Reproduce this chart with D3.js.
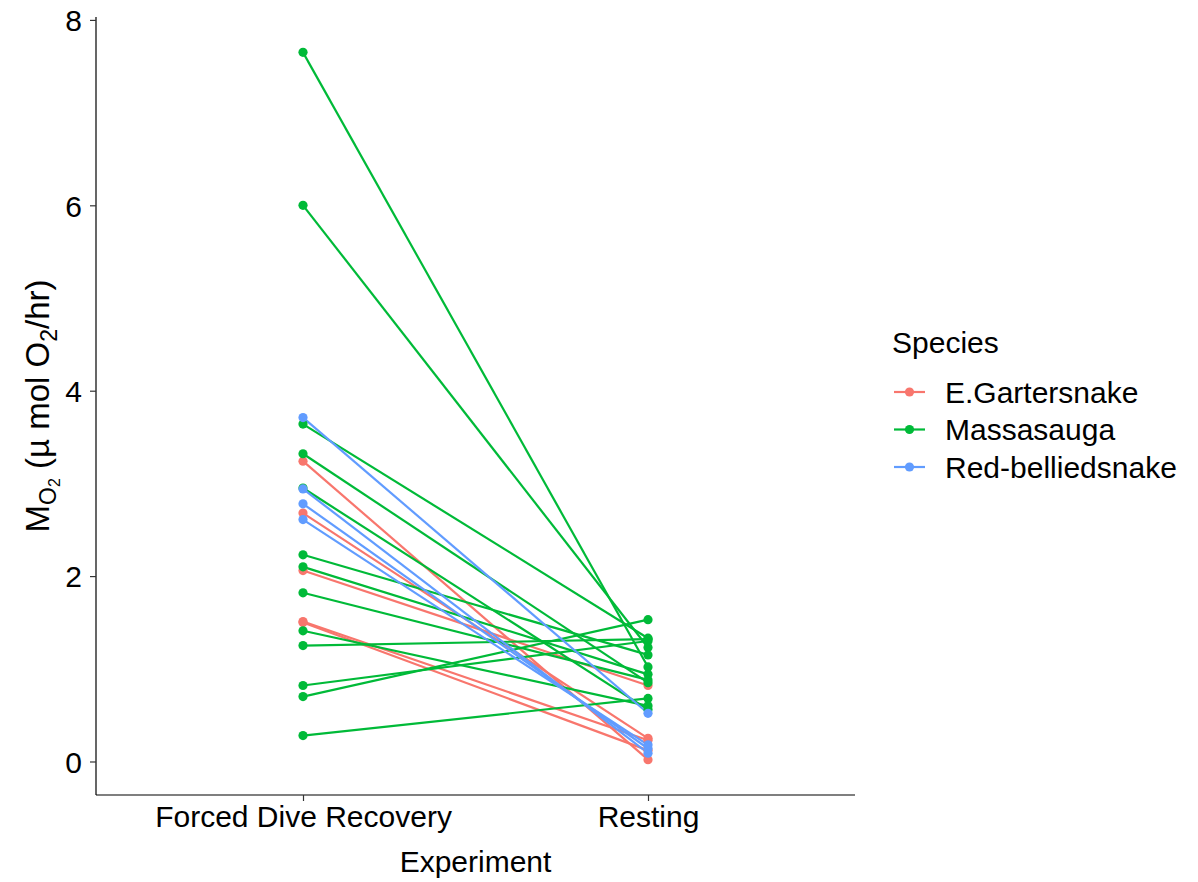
<!DOCTYPE html>
<html>
<head>
<meta charset="utf-8">
<script src="https://cdnjs.cloudflare.com/ajax/libs/d3/7.8.5/d3.min.js"></script>
<style>
  body { margin: 0; background: #fff; }
  text { font-family: "Liberation Sans", Arial, sans-serif; fill: #000; }
</style>
</head>
<body>
<div id="chart"></div>
<script>
var experiments = ["Forced Dive Recovery", "Resting"];
var speciesNames = ["E.Gartersnake", "Massasauga", "Red-belliedsnake"];
var speciesColors = ["#F8766D", "#00BA38", "#619CFF"];
var yTicks = [0, 2, 4, 6, 8];

// one entry per animal: value at Forced Dive Recovery, value at Resting
var garterDive = [3.24, 2.68, 2.06, 1.51, 1.50];
var garterRest = [0.02, 0.25, 0.82, 0.23, 0.12];
var massaDive = [7.65, 6.00, 3.64, 3.32, 2.95, 2.23, 2.10, 1.82, 1.41, 1.25, 0.82, 0.70, 0.28];
var massaRest = [1.02, 1.23, 1.33, 0.85, 0.56, 1.15, 0.94, 0.88, 0.60, 1.32, 1.30, 1.53, 0.68];
var bellyDive = [3.71, 2.94, 2.78, 2.61];
var bellyRest = [0.52, 0.09, 0.14, 0.18];

var dives = [garterDive, massaDive, bellyDive];
var rests = [garterRest, massaRest, bellyRest];

var margin = {top: 17, left: 96},
    width = 855 - 96,
    height = 795 - 17;

var svg = d3.select("#chart").append("svg")
    .attr("width", 1198)
    .attr("height", 882);

var g = svg.append("g")
    .attr("transform", "translate(" + margin.left + "," + margin.top + ")");

var xScale = d3.scalePoint()
    .domain(experiments)
    .range([0, width])
    .padding(0.6);

var yScale = d3.scaleLinear()
    .domain([-0.3615, 8.0315])
    .range([height, 0]);

var color = d3.scaleOrdinal().domain(speciesNames).range(speciesColors);

// build one record per animal
var animals = [];
speciesNames.forEach(function (sp, i) {
    dives[i].forEach(function (v, j) {
        animals.push({species: sp, values: [
            {exp: experiments[0], val: v},
            {exp: experiments[1], val: rests[i][j]}
        ]});
    });
});

var line = d3.line()
    .x(function (d) { return xScale(d.exp); })
    .y(function (d) { return yScale(d.val); });

g.selectAll("path.pair")
    .data(animals)
    .enter().append("path")
    .attr("class", "pair")
    .attr("d", function (d) { return line(d.values); })
    .attr("fill", "none")
    .attr("stroke", function (d) { return color(d.species); })
    .attr("stroke-width", 2.2);

animals.forEach(function (a) {
    g.selectAll(null)
        .data(a.values)
        .enter().append("circle")
        .attr("cx", function (d) { return xScale(d.exp); })
        .attr("cy", function (d) { return yScale(d.val); })
        .attr("r", 4.6)
        .attr("fill", color(a.species));
});

var yAxis = d3.axisLeft(yScale).tickValues(yTicks).tickSize(6).tickPadding(8);
var xAxis = d3.axisBottom(xScale).tickSize(6).tickPadding(8);

var yG = g.append("g").call(yAxis);
var xG = g.append("g").attr("transform", "translate(0," + height + ")").call(xAxis);

[yG, xG].forEach(function (ax) {
    ax.select("path.domain").attr("stroke", "#000").attr("stroke-width", 1.2);
    ax.selectAll(".tick line").attr("stroke", "#333").attr("stroke-width", 1.2);
    ax.selectAll(".tick text")
        .style("font-family", "'Liberation Sans', Arial, sans-serif")
        .style("font-size", "30px")
        .attr("fill", "#000");
});
yG.select("path.domain").attr("d", "M0," + height + "V0");
xG.select("path.domain").attr("d", "M0,0H" + width);
yG.selectAll(".tick text").attr("dy", "0.36em");
xG.selectAll(".tick text").attr("dy", "0.6em");

// axis titles
svg.append("text")
    .attr("x", margin.left + width / 2)
    .attr("y", 872)
    .attr("text-anchor", "middle")
    .style("font-size", "30px")
    .text("Experiment");

var yTitle = svg.append("text")
    .attr("transform", "translate(49," + (margin.top + height / 2) + ") rotate(-90)")
    .attr("text-anchor", "middle")
    .style("font-size", "33px");
yTitle.append("tspan").text("M");
yTitle.append("tspan").attr("dy", 7).style("font-size", "23px").text("O");
yTitle.append("tspan").attr("dy", 4).style("font-size", "16px").text("2");
yTitle.append("tspan").attr("dy", -11).text(" (\u00b5 mol O");
yTitle.append("tspan").attr("dy", 8).style("font-size", "23px").text("2");
yTitle.append("tspan").attr("dy", -8).text("/hr)");

// legend
var legend = svg.append("g").attr("transform", "translate(892,0)");
legend.append("text")
    .attr("x", 0)
    .attr("y", 353)
    .style("font-size", "30px")
    .text("Species");

var items = legend.selectAll("g.item")
    .data(speciesNames)
    .enter().append("g")
    .attr("class", "item")
    .attr("transform", function (d, i) { return "translate(0," + (392 + i * 37.5) + ")"; });

items.append("line")
    .attr("x1", 2).attr("x2", 33)
    .attr("stroke", function (d) { return color(d); })
    .attr("stroke-width", 2.2);
items.append("circle")
    .attr("cx", 17.5).attr("r", 4.6)
    .attr("fill", function (d) { return color(d); });
items.append("text")
    .attr("x", 53)
    .attr("y", 10.5)
    .style("font-size", "30px")
    .text(function (d) { return d; });
</script>
</body>
</html>
